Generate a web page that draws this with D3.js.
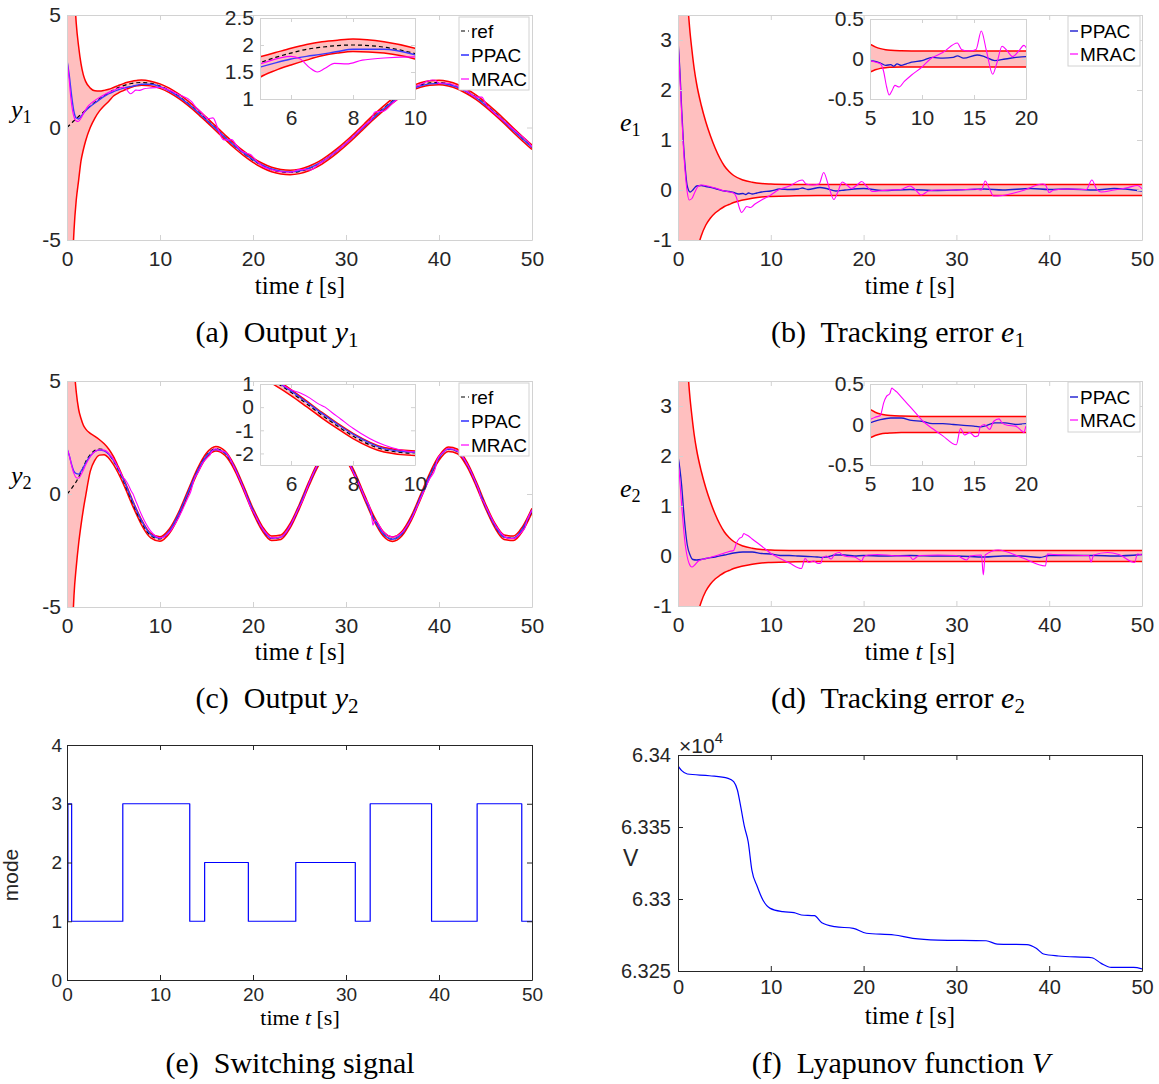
<!DOCTYPE html>
<html><head><meta charset="utf-8">
<script src="https://cdn.jsdelivr.net/npm/d3@7"></script>
<style>body{margin:0;background:#fff;}svg{display:block;}text{white-space:pre;}</style>
</head><body>
<script>
// ---------------- DATA ----------------
const tY = [0,0.25,0.5,0.75,1,1.25,1.5,1.75,2,2.5,3,3.5,4,4.5,5,5.5,6,6.5,7,7.5,8,9,10,11,12,13,14,15,16,17,18,19,20,21,22,23,24,25,26,27,28,29,30,31,32,33,34,35,36,37,38,39,40,41,42,43,44,45,46,47,48,49,50];

const y1Ref = [0,0.10,0.20,0.30,0.39,0.49,0.58,0.68,0.77,0.95,1.12,1.28,1.42,1.55,1.67,1.77,1.85,1.92,1.96,1.99,2.00,1.96,1.84,1.65,1.39,1.08,0.73,0.35,-0.04,-0.43,-0.81,-1.15,-1.45,-1.69,-1.87,-1.97,-2.00,-1.95,-1.82,-1.63,-1.36,-1.05,-0.70,-0.32,0.08,0.47,0.84,1.18,1.48,1.72,1.89,1.98,2.00,1.94,1.81,1.60,1.34,1.02,0.66,0.28,-0.12,-0.51,-0.88];
const y1Upper = [20,14,9,6.4,4.6,3.6,2.85,2.35,2.05,1.75,1.63,1.62,1.65,1.70,1.78,1.86,1.94,2.01,2.06,2.09,2.11,2.06,1.94,1.75,1.49,1.18,0.83,0.45,0.06,-0.33,-0.71,-1.05,-1.35,-1.59,-1.77,-1.87,-1.90,-1.85,-1.72,-1.53,-1.26,-0.95,-0.60,-0.22,0.18,0.57,0.94,1.28,1.58,1.82,1.99,2.08,2.10,2.04,1.91,1.70,1.44,1.12,0.76,0.38,-0.02,-0.41,-0.78];
const y1Lower = [-20,-12,-7.2,-4.6,-3.2,-2.35,-1.5,-1.0,-0.6,0.0,0.42,0.74,0.97,1.17,1.40,1.53,1.63,1.72,1.80,1.85,1.88,1.85,1.74,1.55,1.29,0.98,0.63,0.25,-0.14,-0.53,-0.91,-1.25,-1.55,-1.79,-1.97,-2.07,-2.10,-2.05,-1.92,-1.73,-1.46,-1.15,-0.80,-0.42,-0.02,0.37,0.74,1.08,1.38,1.62,1.79,1.88,1.90,1.84,1.71,1.50,1.24,0.92,0.56,0.18,-0.22,-0.61,-0.98];
const y1PPAC = [3.0,2.3,1.4,0.7,0.42,0.38,0.48,0.62,0.74,0.93,1.09,1.24,1.38,1.50,1.59,1.67,1.74,1.79,1.83,1.88,1.92,1.92,1.82,1.63,1.37,1.06,0.71,0.33,-0.05,-0.44,-0.81,-1.13,-1.43,-1.67,-1.84,-1.94,-1.97,-1.93,-1.81,-1.62,-1.36,-1.05,-0.71,-0.33,0.06,0.45,0.81,1.15,1.45,1.69,1.85,1.94,1.96,1.91,1.78,1.58,1.32,1.00,0.64,0.26,-0.13,-0.51,-0.88];
const tMRAC1 = [0,0.2,0.4,0.6,0.8,1.0,1.2,1.5,1.8,2.2,2.6,3.2,4,5,6,6.3,6.6,6.85,7.1,7.4,7.8,8.3,9,10,10.8,12,13.4,13.8,14.5,15.2,15.7,16.2,16.8,17.2,17.7,18.2,18.7,19.3,19.8,20.3,21,22,23,24,25,25.5,26.2,27,28,29,30,31,32,32.7,33.1,33.5,34,35,36,37,38,39.3,39.6,40,40.5,42,43,44,44.6,45.1,45.6,47,48.5,49.5,50];
const y1MRAC = [3.0,2.28,1.36,0.74,0.41,0.29,0.27,0.41,0.65,0.92,1.08,1.26,1.46,1.65,1.79,1.74,1.58,1.50,1.57,1.66,1.65,1.72,1.76,1.78,1.69,1.47,1.15,0.93,0.65,0.40,0.43,-0.02,-0.54,-0.56,-0.54,-0.78,-1.02,-1.14,-1.22,-1.45,-1.72,-1.88,-1.97,-1.99,-1.87,-1.87,-1.89,-1.65,-1.36,-1.05,-0.70,-0.32,0.10,0.35,0.69,0.71,0.72,1.07,1.42,1.70,1.92,2.11,2.10,1.95,1.98,1.83,1.61,1.35,1.35,1.00,0.77,0.28,-0.26,-0.60,-0.86];

const y2Ref = [0,0.12,0.25,0.40,0.55,0.75,0.95,1.18,1.42,1.74,1.93,1.99,1.94,1.76,1.47,1.08,0.64,0.15,-0.35,-0.82,-1.25,-1.84,-1.99,-1.65,-0.91,0.05,1.00,1.71,2.00,1.80,1.17,0.25,-0.73,-1.53,-1.96,-1.91,-1.40,-0.54,0.44,1.32,1.88,1.98,1.60,0.82,-0.15,-1.08,-1.76,-2.00,-1.76,-1.09,-0.15,0.82,1.59,1.98,1.88,1.32,0.45,-0.54,-1.39,-1.91,-1.96,-1.53,-0.73];
const y2Upper = [20,13,8.5,5.8,4.5,3.75,3.35,3.05,2.88,2.68,2.55,2.40,2.22,1.98,1.65,1.22,0.76,0.27,-0.23,-0.70,-1.13,-1.74,-1.89,-1.55,-0.81,0.15,1.10,1.81,2.10,1.90,1.27,0.35,-0.63,-1.43,-1.86,-1.81,-1.30,-0.44,0.54,1.42,1.98,2.08,1.70,0.92,-0.05,-0.98,-1.66,-1.90,-1.66,-0.99,-0.05,0.92,1.69,2.08,1.98,1.42,0.55,-0.44,-1.29,-1.81,-1.86,-1.43,-0.63];
const y2Lower = [-20,-12,-7.2,-4.5,-3.2,-2.2,-1.4,-0.7,-0.1,1.0,1.5,1.72,1.74,1.58,1.30,0.93,0.50,0.02,-0.47,-0.93,-1.36,-1.94,-2.09,-1.75,-1.01,-0.05,0.90,1.61,1.90,1.70,1.07,0.15,-0.83,-1.63,-2.06,-2.01,-1.50,-0.64,0.34,1.22,1.78,1.88,1.50,0.72,-0.25,-1.18,-1.86,-2.10,-1.86,-1.19,-0.25,0.72,1.49,1.88,1.78,1.22,0.35,-0.64,-1.49,-2.01,-2.06,-1.63,-0.83];
const y2PPAC = [2.0,1.7,1.3,1.0,0.9,0.88,1.0,1.17,1.36,1.68,1.88,1.95,1.91,1.76,1.49,1.12,0.70,0.22,-0.27,-0.74,-1.17,-1.79,-1.95,-1.64,-0.90,0.05,0.99,1.69,1.97,1.82,1.19,0.25,-0.72,-1.53,-1.96,-1.91,-1.40,-0.53,0.44,1.32,1.88,1.98,1.60,0.82,-0.15,-1.10,-1.76,-2.00,-1.76,-1.09,-0.15,0.79,1.60,1.99,1.89,1.33,0.46,-0.54,-1.39,-1.91,-1.96,-1.53,-0.70];
const tMRAC2 = [0,0.25,0.5,0.75,1,1.25,1.5,1.75,2,2.5,3,3.5,4,4.5,5,5.5,6,6.3,6.6,6.9,7.1,7.3,7.6,8,9,10.1,11,12,13,13.3,13.7,14.1,14.6,15.1,15.4,15.6,16,16.5,16.9,17.4,17.7,18.2,19,19.6,19.8,20,20.5,21,21.5,22,23,24,25,25.3,26,27,28,29,30,31,31.5,32,32.7,32.9,33.1,34,34.5,35,36,37,38,39,39.6,39.8,40.5,41,42,43,44,44.3,44.5,44.8,45,46,46.3,47,47.5,48,49,49.2,49.5,50];
const y2MRAC = [2.0,1.7,1.25,0.9,0.72,0.70,0.85,1.05,1.28,1.65,1.88,1.96,1.94,1.80,1.53,1.17,0.75,0.61,0.40,0.13,0.0,-0.21,-0.51,-0.91,-1.64,-1.94,-1.70,-1.05,-0.17,0.10,0.68,0.96,1.37,1.61,1.74,1.91,2.00,1.90,1.88,1.67,1.42,0.99,0.23,-0.43,-0.64,-0.75,-1.15,-1.51,-1.77,-1.94,-1.90,-1.40,-0.55,-0.32,0.45,1.34,1.90,1.99,1.61,0.77,0.35,-0.14,-0.80,-1.38,-1.15,-1.68,-1.82,-1.90,-1.71,-1.12,-0.22,0.67,1.12,1.51,1.87,2.01,1.90,1.34,0.46,0.16,-0.17,-0.33,-0.51,-1.33,-1.52,-1.86,-1.97,-1.97,-1.63,-1.53,-1.13,-0.71];

const tErrBound = [0,0.25,0.5,0.75,1,1.25,1.5,1.75,2,2.5,3,3.5,4,4.5,5,5.5,6,7,8,9,10,12,15,20,30,40,50];
const errUpper = [12,8.8,6.6,5.0,3.9,3.25,2.8,2.42,2.13,1.70,1.36,1.08,0.84,0.64,0.48,0.37,0.29,0.2,0.155,0.13,0.12,0.112,0.11,0.11,0.11,0.11,0.11];
const errLower = [-12,-7.5,-5.0,-3.6,-2.75,-2.2,-1.8,-1.5,-1.25,-0.92,-0.70,-0.56,-0.46,-0.39,-0.33,-0.29,-0.25,-0.2,-0.165,-0.14,-0.13,-0.118,-0.112,-0.11,-0.11,-0.11,-0.11];
const tInsetBound = [5,5.5,6,6.5,7,8,10,20];
const insetUpper = [0.185,0.152,0.13,0.117,0.11,0.104,0.1,0.1];
const insetLower = [-0.165,-0.135,-0.117,-0.108,-0.104,-0.1,-0.1,-0.1];

const tE1P = [0,0.2,0.4,0.6,0.8,1.0,1.3,1.6,2.0,2.5,3,4,5,5.5,6,6.5,7,7.3,7.6,8,8.5,9,10,11,12,13,13.4,14,15.3,16,17,18,20,22,25,28,30,33,35,38,40,42,45,47,50];
const e1PPAC = [3.0,2.4,1.6,0.9,0.4,0.08,-0.04,0.0,0.08,0.09,0.07,0.03,-0.02,-0.03,-0.05,-0.08,-0.07,-0.09,-0.06,-0.08,-0.06,-0.04,-0.02,0.02,0.01,0.02,0.04,0.01,0.05,0.03,-0.02,0.0,0.03,-0.01,0.01,-0.01,0.0,0.02,0.0,0.03,0.01,0.02,0.0,0.03,-0.02];
const tE1M = [0,0.2,0.4,0.6,0.8,1.0,1.2,1.5,1.8,2.2,2.6,3.2,4,5,6,6.3,6.6,6.85,7.1,7.4,7.8,8.3,9,10,10.8,12,13.4,13.8,14.5,15.2,15.7,16.2,16.8,17.2,17.7,18.2,18.7,19.3,19.8,20.3,21,22,23,24,25,25.5,26.2,27,28,30,32,32.7,33.1,33.5,34,35,37,39.3,39.6,40,40.5,42,44,44.6,45.1,45.6,47,48.5,49.5,50];
const e1MRAC = [3.0,2.3,1.5,0.8,0.3,-0.05,-0.2,-0.17,-0.05,0.08,0.10,0.08,0.04,-0.02,-0.06,-0.15,-0.35,-0.45,-0.40,-0.33,-0.35,-0.28,-0.2,-0.1,0.0,0.08,0.20,0.12,0.10,0.12,0.35,0.10,-0.19,-0.05,0.16,0.10,0.03,0.10,0.17,0.08,-0.03,-0.01,0.0,0.01,0.08,0.02,-0.10,-0.02,0.0,0.0,0.02,0.0,0.18,0.05,-0.12,-0.11,-0.02,0.12,0.10,-0.05,0.0,0.02,0.01,0.20,0.02,-0.04,0.0,0.05,0.09,0.02];

const tE2P = [0,0.2,0.4,0.6,0.8,1.0,1.3,1.6,2.0,2.5,3,4,5,6,7,7.5,8,9,10,11,12,13,14,15,15.5,16,17,18,19,20,22,25,28,30,33,35,37,39,40,42,45,47,50];
const e2PPAC = [2.0,1.75,1.4,0.92,0.52,0.22,0.02,-0.07,-0.08,-0.07,-0.05,-0.02,0.02,0.06,0.08,0.08,0.08,0.05,0.04,0.01,0.01,0.0,-0.01,-0.02,-0.03,-0.02,0.02,0.02,0.0,0.01,0.0,0.01,0.0,0.0,-0.02,0.0,0.0,-0.03,0.01,0.01,0.01,0.0,0.03];
const tE2M = [0,0.2,0.4,0.6,0.8,1.0,1.2,1.5,1.8,2.2,3,4,5,5.5,6,6.1,6.3,6.6,6.9,7.1,7.3,7.6,8,9,10.1,11,12,13.3,13.7,14.1,14.6,15.1,15.4,15.6,16,16.5,16.9,17.4,17.7,18.2,19,19.6,19.8,20,20.5,21.5,23,25,25.3,26,28,30,31.1,31.5,32.7,32.9,33.1,34.5,37,39.6,39.8,40.5,42,44.3,44.5,44.8,46.3,47.5,49.2,49.5,50];
const e2MRAC = [2.0,1.5,1.0,0.55,0.2,-0.02,-0.15,-0.22,-0.18,-0.1,-0.05,0.0,0.06,0.09,0.11,0.15,0.26,0.35,0.38,0.45,0.43,0.40,0.34,0.2,0.04,-0.05,-0.14,-0.25,-0.05,-0.13,-0.1,-0.15,-0.14,-0.03,0.0,-0.06,0.04,0.07,0.02,-0.01,-0.02,-0.08,-0.1,-0.02,0.02,0.03,0.01,-0.01,-0.07,0.01,0.02,0.01,-0.08,0.0,0.02,-0.38,0.02,0.12,-0.03,-0.2,0.04,0.03,0.02,0.01,-0.12,0.02,0.07,0.03,-0.13,0.04,0.02];

const modeT = [0,0.1,0.5,6.0,13.2,14.8,19.5,24.6,31.0,32.6,39.2,44.1,48.9,50];
const modeV = [1,3,1,3,1,2,1,2,1,3,1,3,1,1];

const vT = [0,0.4,1.0,3.4,5.4,6.0,6.4,6.76,7.16,7.56,7.96,8.55,9.15,9.94,11.3,12.5,13.3,14.7,15.5,16.9,18.9,20.3,23.3,25.3,28.0,33.2,34.4,37.6,38.6,39.4,41.0,44.6,45.6,46.7,49.1,50];
const vV = [6.33924,6.33891,6.33868,6.33856,6.33838,6.33815,6.33757,6.33641,6.33502,6.33398,6.33201,6.33085,6.32993,6.32935,6.32912,6.32905,6.32889,6.32884,6.32835,6.32808,6.32796,6.32762,6.32750,6.32727,6.32715,6.32710,6.32687,6.32683,6.32658,6.32618,6.32604,6.32592,6.32553,6.32525,6.32525,6.32515];

const xTicks = [0,10,20,30,40,50];
const yTicksY = [-5,0,5];
const yTicksE = [-1,0,1,2,3];
const yTicksMode = [0,1,2,3,4];
const yTicksV = [6.325,6.33,6.335,6.34];

// ---------------- DRAWING ----------------
const SANS = "'Liberation Sans', Arial, Helvetica, sans-serif";
const SERIF = "'Liberation Serif', 'Times New Roman', serif";
const TXT = "#262626";
const LIGHT = "#d2d2d2";
const RED = "#ff0000", FILL = "#ffbfbf", MAG = "#ff00ff";

const svg = d3.select("body").append("svg").attr("width",1159).attr("height",1084);
svg.append("rect").attr("width",1159).attr("height",1084).attr("fill","#fff");
const defs = svg.append("defs");
let cid = 0;

function makeAx(c) {
  const g = svg.append("g");
  const x = d3.scaleLinear().domain(c.xd).range([c.L, c.R]);
  const y = d3.scaleLinear().domain(c.yd).range([c.B, c.T]);
  if (c.bg) g.append("rect").attr("x",c.L).attr("y",c.T).attr("width",c.R-c.L).attr("height",c.B-c.T).attr("fill",c.bg);
  const id = "clip"+(cid++);
  defs.append("clipPath").attr("id",id).append("rect").attr("x",c.L).attr("y",c.T).attr("width",c.R-c.L).attr("height",c.B-c.T);
  const plot = g.append("g").attr("clip-path",`url(#${id})`);
  const frame = g.append("g");
  return {g,x,y,plot,frame,c};
}
function styleAxis(s, c) {
  s.attr("font-size",null).attr("font-family",null);
  s.select(".domain").attr("stroke",c.stroke).attr("stroke-width",1);
  s.selectAll(".tick line").attr("stroke",c.stroke).attr("stroke-width",1);
  s.selectAll(".tick text").attr("fill",TXT).attr("font-family",SANS).attr("font-size",c.fs);
}
function drawFrame(ax) {
  const c = ax.c, f = ax.frame, fmt = d => String(d), tl = c.tl || 5;
  const b = f.append("g").attr("transform",`translate(0,${c.B})`)
    .call(d3.axisBottom(ax.x).tickValues(c.xt).tickFormat(fmt).tickSizeInner(-tl).tickSizeOuter(0).tickPadding(c.px));
  const l = f.append("g").attr("transform",`translate(${c.L},0)`)
    .call(d3.axisLeft(ax.y).tickValues(c.yt).tickFormat(fmt).tickSizeInner(-tl).tickSizeOuter(0).tickPadding(c.py));
  const t = f.append("g").attr("transform",`translate(0,${c.T})`)
    .call(d3.axisTop(ax.x).tickValues(c.xt).tickFormat("").tickSizeInner(-tl).tickSizeOuter(0));
  const r = f.append("g").attr("transform",`translate(${c.R},0)`)
    .call(d3.axisRight(ax.y).tickValues(c.yt).tickFormat("").tickSizeInner(-tl).tickSizeOuter(0));
  [b,l,t,r].forEach(s => styleAxis(s,c));
}
function line(ax, T, V, color, w, dash, curve) {
  const gen = d3.line().x(d=>ax.x(d[0])).y(d=>ax.y(d[1])).curve(curve || d3.curveMonotoneX);
  ax.plot.append("path").datum(T.map((t,i)=>[t,V[i]])).attr("d",gen)
    .attr("fill","none").attr("stroke",color).attr("stroke-width",w)
    .attr("stroke-dasharray",dash||null).attr("stroke-linejoin","round");
}
function band(ax, T, lo, hi) {
  const gen = d3.area().x(d=>ax.x(d[0])).y0(d=>ax.y(d[1])).y1(d=>ax.y(d[2])).curve(d3.curveMonotoneX);
  ax.plot.append("path").datum(T.map((t,i)=>[t,lo[i],hi[i]])).attr("d",gen).attr("fill",FILL);
  line(ax, T, lo, RED, 1.5);
  line(ax, T, hi, RED, 1.5);
}
function legend(x0, y0, w, h, items) {
  const g = svg.append("g");
  g.append("rect").attr("x",x0).attr("y",y0).attr("width",w).attr("height",h).attr("fill","#fff").attr("stroke",LIGHT);
  items.forEach(it => {
    g.append("line").attr("x1",x0+2).attr("x2",x0+10).attr("y1",it.y).attr("y2",it.y)
      .attr("stroke",it.color).attr("stroke-width",it.w).attr("stroke-dasharray",it.dash||null);
    g.append("text").attr("x",x0+12).attr("y",it.y).attr("dy","0.36em").attr("font-family",SANS)
      .attr("font-size",19).attr("fill","#000").text(it.label);
  });
}
function mathLabel(x, y, base, sub, fs) {
  const t = svg.append("text").attr("x",x).attr("y",y).attr("font-family",SERIF).attr("font-size",fs).attr("fill","#000");
  t.append("tspan").attr("font-style","italic").text(base);
  t.append("tspan").attr("font-size",fs*0.7).attr("dy",fs*0.2).text(sub);
}
function timeLabel(cx, y, fs) {
  const t = svg.append("text").attr("x",cx).attr("y",y).attr("text-anchor","middle").attr("font-family",SERIF).attr("font-size",fs).attr("fill","#000");
  t.append("tspan").text("time ");
  t.append("tspan").attr("font-style","italic").text("t");
  t.append("tspan").text(" [s]");
}
function caption(cx, y, tag, words, base, sub) {
  const t = svg.append("text").attr("x",cx).attr("y",y).attr("text-anchor","middle").attr("font-family",SERIF).attr("font-size",30).attr("fill","#000");
  t.append("tspan").text(tag + "  " + words);
  if (base) {
    t.append("tspan").attr("font-style","italic").text(" " + base);
    if (sub) t.append("tspan").attr("font-size",21).attr("dy",5).text(sub);
  }
}

const mainCfg = (L,R,T,B,yd,yt) => ({L,R,T,B,xd:[0,50],yd,xt:xTicks,yt,stroke:LIGHT,fs:21,px:11,py:6,tl:5});
const insetCfg = (L,R,T,B,xd,yd,xt,yt) => ({L,R,T,B,xd,yd,xt,yt,stroke:LIGHT,fs:21,px:11,py:6,tl:4,bg:"#fff"});

// ---- (a),(c) outputs ----
function yPanel(cfg, icfg, Ref, Up, Lo, P, tM, M, legY) {
  const ax = makeAx(cfg);
  band(ax, tY, Lo, Up);
  line(ax, tY, Ref, "#000", 1.2, "4,3");
  line(ax, tY, P, "#3a3aff", 1.4);
  line(ax, tM, M, MAG, 1.1);
  drawFrame(ax);
  const ia = makeAx(icfg);
  band(ia, tY, Lo, Up);
  line(ia, tY, Ref, "#000", 1.2, "4,3");
  line(ia, tY, P, "#3a3aff", 1.4);
  line(ia, tM, M, MAG, 1.1);
  drawFrame(ia);
  legend(459, legY, 70, 73, [
    {y:legY+14, color:"#000", w:1.2, dash:"4,3", label:"ref"},
    {y:legY+38, color:"#3a3aff", w:1.6, label:"PPAC"},
    {y:legY+62, color:MAG, w:1.2, label:"MRAC"}]);
}
yPanel(mainCfg(67,532,15,240,[-5,5],yTicksY), insetCfg(260,415,18,99,[5,10],[1,2.5],[6,8,10],[1,1.5,2,2.5]),
  y1Ref, y1Upper, y1Lower, y1PPAC, tMRAC1, y1MRAC, 17);
yPanel(mainCfg(67,532,381,607,[-5,5],yTicksY), insetCfg(260,415,384,465,[5,10],[-2.5,1],[6,8,10],[-2,-1,0,1]),
  y2Ref, y2Upper, y2Lower, y2PPAC, tMRAC2, y2MRAC, 383);

// ---- (b),(d) errors ----
function ePanel(cfg, icfg, tP, P, tM, M, legY) {
  const ax = makeAx(cfg);
  band(ax, tErrBound, errLower, errUpper);
  line(ax, tP, P, "#1a1ad0", 1.3);
  line(ax, tM, M, MAG, 1.1);
  drawFrame(ax);
  const ia = makeAx(icfg);
  band(ia, tInsetBound, insetLower, insetUpper);
  line(ia, tP, P, "#1a1ad0", 1.3);
  line(ia, tM, M, MAG, 1.1);
  drawFrame(ia);
  legend(1068, legY, 72, 50, [
    {y:legY+15, color:"#1a1ad0", w:1.4, label:"PPAC"},
    {y:legY+38, color:MAG, w:1.2, label:"MRAC"}]);
}
ePanel(mainCfg(678,1142,15,240,[-1,3.5],yTicksE), insetCfg(870,1026,19,99,[5,20],[-0.5,0.5],[5,10,15,20],[-0.5,0,0.5]),
  tE1P, e1PPAC, tE1M, e1MRAC, 16);
ePanel(mainCfg(678,1142,381,606,[-1,3.5],yTicksE), insetCfg(870,1026,384,465,[5,20],[-0.5,0.5],[5,10,15,20],[-0.5,0,0.5]),
  tE2P, e2PPAC, tE2M, e2MRAC, 382);

// ---- (e) mode ----
const axE = makeAx({L:67,R:532,T:745,B:980,xd:[0,50],yd:[0,4],xt:xTicks,yt:yTicksMode,stroke:TXT,fs:19,px:8,py:5,tl:5});
line(axE, modeT, modeV, "#0000ff", 1.2, null, d3.curveStepAfter);
drawFrame(axE);

// ---- (f) V ----
const axF = makeAx({L:678,R:1142,T:755,B:971,xd:[0,50],yd:[6.325,6.34],xt:xTicks,yt:yTicksV,stroke:TXT,fs:20,px:9,py:7,tl:5});
line(axF, vT, vV, "#0000ff", 1.2);
drawFrame(axF);
const mult = svg.append("text").attr("x",679).attr("y",753).attr("font-family",SANS).attr("font-size",21).attr("fill",TXT);
mult.append("tspan").text("\u00d710");
mult.append("tspan").attr("font-size",15).attr("dy",-10).text("4");

// ---- axis labels ----
mathLabel(11, 118, "y", "1", 26);
mathLabel(620, 131, "e", "1", 26);
mathLabel(11, 484, "y", "2", 26);
mathLabel(620, 497, "e", "2", 26);
svg.append("text").attr("transform","translate(18,875) rotate(-90)").attr("text-anchor","middle")
  .attr("font-family",SANS).attr("font-size",21).attr("fill",TXT).text("mode");
svg.append("text").attr("x",623).attr("y",866).attr("font-family",SANS).attr("font-size",23).attr("fill",TXT).text("V");
timeLabel(300, 294, 25);
timeLabel(910, 294, 25);
timeLabel(300, 660, 25);
timeLabel(910, 660, 25);
timeLabel(300, 1025, 22);
timeLabel(910, 1024, 25);

// ---- captions ----
caption(277, 342, "(a)", "Output", "y", "1");
caption(898, 342, "(b)", "Tracking error", "e", "1");
caption(277, 708, "(c)", "Output", "y", "2");
caption(898, 708, "(d)", "Tracking error", "e", "2");
caption(290, 1073, "(e)", "Switching signal");
caption(901, 1073, "(f)", "Lyapunov function", "V");
</script>
</body></html>
